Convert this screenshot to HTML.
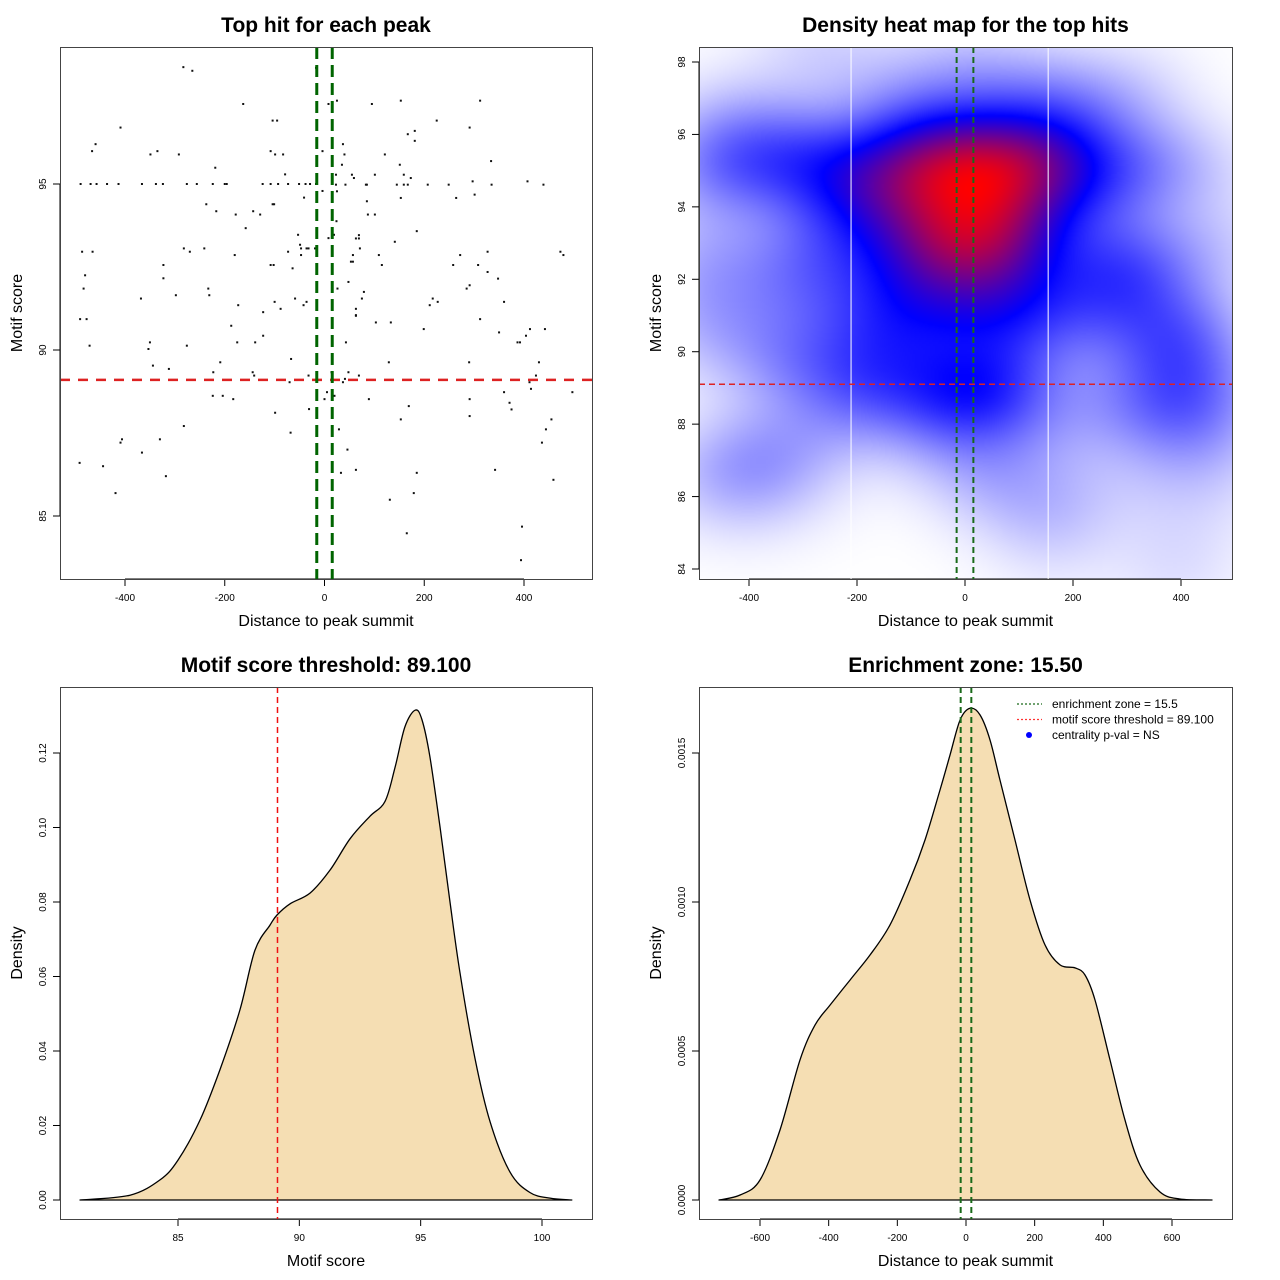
<!DOCTYPE html>
<html><head><meta charset="utf-8"><style>
html,body{margin:0;padding:0;background:#fff;}
#wrap{position:relative;width:1280px;height:1280px;overflow:hidden;font-family:"Liberation Sans",sans-serif;}
#heat{position:absolute;left:699px;top:47px;width:533px;height:532px;}
#svg{position:absolute;left:0;top:0;}
</style></head><body>
<div id="wrap">
<canvas id="heat" width="267" height="266"></canvas>
<svg id="svg" width="1280" height="1280" xmlns="http://www.w3.org/2000/svg"></svg>
</div>
<script>
// ---- data ----
const hitDist = [-283,-265,-163,-104,-95,-409,-459,-466,-349,-335,-292,-219,-108,-99,-83,-79,
-489,-469,-457,-436,-413,-366,-338,-324,-276,-256,-224,-200,-196,-124,-108,-93,-73,-51,-38,-29,-17,
-4,-41,-237,-104,-101,-217,-178,-143,-129,-158,-53,-49,-47,-36,-32,-19,8,-282,-270,-241,-486,-465,-180,-73,-47,
-323,-108,-102,-64,-480,-323,-483,-233,-298,-231,-368,-59,-100,-36,-173,-42,-88,-123,-17,-4,8,
25,95,153,312,225,291,181,167,181,37,40,121,35,151,334,23,55,59,101,159,173,
23,42,83,85,145,159,167,207,249,335,439,297,407,25,153,264,301,85,87,101,15,24,185,19,63,69,69,141,71,57,109,272,327,473,479,53,57,115,258,308,327,348,48,26,291,285,79,75,217,227,211,360,63,63,
-490,-477,-187,-123,-471,-350,-353,-276,-175,-139,-344,-312,-209,-223,-144,-141,-67,-32,-70,5,0,-224,-204,-183,-31,-99,-282,-68,-406,-409,-330,-366,-491,-444,-318,-419,
63,103,133,199,312,350,387,392,404,412,442,43,129,290,430,48,69,14,41,37,424,411,414,20,89,169,291,360,371,375,497,291,153,455,29,444,436,46,33,63,185,342,459,179,131,165,396,394];
const hitScore = [98.52,98.41,97.41,96.91,96.91,96.70,96.20,95.99,95.89,95.99,95.89,95.49,95.99,95.89,95.89,95.29,
95,95,95,95,95,95,95,95,95,95,95,95,95,95,95,95,95,95,95,95,95,
94.79,94.59,94.39,94.39,94.39,94.18,94.08,94.18,94.08,93.67,93.47,93.17,93.06,93.06,93.06,93.06,93.37,93.06,92.96,93.06,92.96,92.96,92.86,92.96,92.86,
92.56,92.56,92.56,92.46,92.25,92.16,91.85,91.85,91.65,91.65,91.55,91.55,91.45,91.45,91.35,91.35,91.24,91.14,98.50,95.99,97.41,
97.51,97.41,97.51,97.51,96.91,96.70,96.60,96.50,96.30,96.20,95.89,95.89,95.58,95.58,95.69,95.28,95.28,95.18,95.28,95.28,95.18,
94.98,94.98,94.98,94.98,94.98,94.98,94.98,94.98,94.98,94.98,94.98,95.08,95.08,94.78,94.58,94.58,94.68,94.48,94.08,94.08,93.98,93.88,93.58,93.47,93.36,93.36,93.46,93.26,93.06,92.86,92.86,92.86,92.96,92.96,92.86,92.66,92.66,92.56,92.56,92.56,92.35,92.15,92.05,91.85,91.95,91.85,91.75,91.55,91.55,91.45,91.35,91.45,91.24,91.05,
90.93,90.93,90.73,90.43,90.13,90.23,90.03,90.13,90.23,90.23,89.53,89.43,89.63,89.33,89.33,89.23,89.73,89.23,89.03,88.73,88.52,88.62,88.62,88.52,88.22,88.11,87.71,87.51,87.31,87.21,87.31,86.91,86.60,86.50,86.20,85.69,
91.03,90.83,90.83,90.63,90.93,90.53,90.23,90.23,90.43,90.63,90.63,90.23,89.63,89.63,89.63,89.33,89.23,89.33,89.13,89.03,89.23,89.03,88.83,88.62,88.52,88.31,88.52,88.73,88.41,88.21,88.73,88.01,87.91,87.91,87.61,87.61,87.21,87.00,86.30,86.39,86.30,86.39,86.09,85.69,85.49,84.48,84.68,83.67];
const scoreX = [80.96,83.02,84.26,85,85.91,86.73,87.55,88.17,88.79,89.08,89.61,90.44,91.26,92.09,92.91,93.53,93.94,94.35,94.77,95.05,95.38,95.8,96.21,96.62,97.24,97.86,98.68,99.5,100.33,101.23];
const scoreDens = [0,0.0013,0.0054,0.0107,0.0215,0.035,0.051,0.067,0.0738,0.0765,0.0795,0.0824,0.0885,0.097,0.103,0.107,0.116,0.127,0.1315,0.129,0.119,0.100,0.080,0.061,0.038,0.021,0.0075,0.002,0.0005,0];
const distX = [-719.5,-658,-600,-541.8,-483.5,-439.8,-396,-338,-279.6,-221.4,-163,-119.4,-75.7,-46.6,-17.5,11.7,40.8,69.9,99,142.7,186.4,230,273.8,317.5,346.6,375.8,419.5,463,506.8,565,623,716.6];
const distDens = [0,0.0000168,0.000067,0.000235,0.00047,0.000587,0.000654,0.000738,0.000822,0.000923,0.001074,0.001208,0.001376,0.001493,0.00161,0.00165,0.001628,0.001544,0.001409,0.001208,0.001007,0.000856,0.000789,0.000779,0.000755,0.000671,0.00047,0.000268,0.000117,0.000027,0.0000034,0];
const threshold = 89.1;
const zone = 15.5;
const p1XTicks=[-400,-200,0,200,400], p1YTicks=[85,90,95];
const p2XTicks=[-400,-200,0,200,400], p2YTicks=[84,86,88,90,92,94,96,98];
const p3XTicks=[85,90,95,100], p3YTicks=[0,0.02,0.04,0.06,0.08,0.10,0.12];
const p3YLabels=["0.00","0.02","0.04","0.06","0.08","0.10","0.12"];
const p4XTicks=[-600,-400,-200,0,200,400,600], p4YTicks=[0,0.0005,0.0010,0.0015];
const p4YLabels=["0.0000","0.0005","0.0010","0.0015"];

// ---- helpers ----
const NS="http://www.w3.org/2000/svg";
const svg=document.getElementById('svg');
function el(tag,attrs,parent,txt){const e=document.createElementNS(NS,tag);for(const k in attrs)e.setAttribute(k,attrs[k]);if(txt!==undefined)e.textContent=txt;(parent||svg).appendChild(e);return e;}
function lin(d0,d1,r0,r1){return v=>r0+(v-d0)*(r1-r0)/(d1-d0);}
function smoothPath(P){ // Catmull-Rom -> cubic bezier
  let d='M'+P[0][0].toFixed(1)+','+P[0][1].toFixed(1);
  for(let i=0;i<P.length-1;i++){const p0=P[Math.max(0,i-1)],p1=P[i],p2=P[i+1],p3=P[Math.min(P.length-1,i+2)];
    const c1=[p1[0]+(p2[0]-p0[0])/6,p1[1]+(p2[1]-p0[1])/6],c2=[p2[0]-(p3[0]-p1[0])/6,p2[1]-(p3[1]-p1[1])/6];
    d+='C'+c1[0].toFixed(1)+','+c1[1].toFixed(1)+' '+c2[0].toFixed(1)+','+c2[1].toFixed(1)+' '+p2[0].toFixed(1)+','+p2[1].toFixed(1);}
  return d+'Z';
}

function panel(name,box,sx,sy,xt,xl,yt,yl,title,xlab,ylab){
  const g=el('g',{});
  
  
  const [x0,y0,x1,y1]=box;
  const t=el('text',{x:(x0+x1)/2,y:y0-15,'text-anchor':'middle','font-size':21,'font-weight':'bold',fill:'#000'},g,title);
  
  
  const xa=el('g',{},g);
  
  
  el('line',{x1:sx(xt[0]),x2:sx(xt[xt.length-1]),y1:y1,y2:y1,stroke:'#000','stroke-width':1},xa);
  xt.forEach((v,i)=>{el('line',{x1:sx(v),x2:sx(v),y1:y1,y2:y1+7,stroke:'#000'},xa);
    const l=el('text',{x:sx(v),y:y1+22,'text-anchor':'middle','font-size':10,fill:'#000'},xa,xl[i]);
    
    });
  const ya=el('g',{},g);
  
  
  el('line',{x1:x0,x2:x0,y1:sy(yt[0]),y2:sy(yt[yt.length-1]),stroke:'#000'},ya);
  yt.forEach((v,i)=>{el('line',{x1:x0-7,x2:x0,y1:sy(v),y2:sy(v),stroke:'#000'},ya);
    const l=el('text',{x:0,y:0,transform:`translate(${x0-14},${sy(v)}) rotate(-90)`,'text-anchor':'middle','font-size':10,fill:'#000'},ya,yl[i]);
    
    });
  const xt2=el('text',{x:(x0+x1)/2,y:y1+47,'text-anchor':'middle','font-size':16,fill:'#000'},g,xlab);
  
  
  const yt2=el('text',{x:0,y:0,transform:`translate(${x0-38},${(y0+y1)/2}) rotate(-90)`,'text-anchor':'middle','font-size':16,fill:'#000'},g,ylab);
  
  
  return g;
}
function frame(box){const f=el('rect',{x:box[0]+0.5,y:box[1]+0.5,width:box[2]-box[0],height:box[3]-box[1],fill:'none',stroke:'#444','stroke-width':1});
  
  }

// ---- panel 1 ----
const b1=[60,47,592,579];
const x1s=lin(-400,400,125,524), y1s=lin(85,95,516,184);
panel('scatter-panel',b1,x1s,y1s,p1XTicks,p1XTicks.map(String),p1YTicks,p1YTicks.map(String),'Top hit for each peak','Distance to peak summit','Motif score');
const pts=el('g',{});


hitDist.forEach((d,i)=>{const c=el('rect',{x:x1s(d)-1,y:y1s(hitScore[i])-1,width:2,height:2,fill:'#111'},pts);
  
  });
const r1=el('line',{x1:b1[0],x2:b1[2],y1:y1s(threshold),y2:y1s(threshold),stroke:'#dd2222','stroke-width':2.5,'stroke-dasharray':'10,8'});


[-zone,zone].forEach(z=>{const g=el('line',{x1:x1s(z),x2:x1s(z),y1:b1[1],y2:b1[3],stroke:'#006400','stroke-width':3,'stroke-dasharray':'12,6'});
  
  });
frame(b1);

// ---- panel 2 heatmap ----
const b2=[699,47,1232,579];
const x2s=lin(-400,400,749,1181), y2s=lin(84,98,569,62);
(function(){
  const cv=document.getElementById('heat'),ctx=cv.getContext('2d');
  const W=cv.width,H=cv.height;
  const img=ctx.createImageData(W,H);
  const bx=89,by=1.0;const dens=new Float32Array(W*H);let mx=0;
  const xinv=px=>-400+(px-749)*800/432, yinv=py=>84+(569-py)*14/507;
  for(let j=0;j<H;j++){const yy=yinv(47+(j+0.5)*532/H);
    for(let i=0;i<W;i++){const xx=xinv(699+(i+0.5)*533/W);let s=0;
      for(let k=0;k<hitDist.length;k++){const dx=(xx-hitDist[k])/bx,dy=(yy-hitScore[k])/by;const q=dx*dx+dy*dy;if(q<30)s+=Math.exp(-0.5*q);}
      dens[j*W+i]=s;if(s>mx)mx=s;}}
  for(let p=0;p<W*H;p++){const t=dens[p]/mx;let r,g,b;
    if(t<0.5){r=g=255*(1-2*t);b=255;}else{r=255*(2*t-1);g=0;b=255*(2-2*t);}
    img.data[p*4]=r;img.data[p*4+1]=g;img.data[p*4+2]=b;img.data[p*4+3]=255;}
  ctx.putImageData(img,0,0);
})();
panel('heatmap-panel',b2,x2s,y2s,p2XTicks,p2XTicks.map(String),p2YTicks,p2YTicks.map(String),'Density heat map for the top hits','Distance to peak summit','Motif score');
[-211,154].forEach(v=>{const w=el('line',{x1:x2s(v),x2:x2s(v),y1:b2[1],y2:b2[3],stroke:'#fff','stroke-width':1});
  
  });
const r2=el('line',{x1:b2[0],x2:b2[2],y1:y2s(threshold),y2:y2s(threshold),stroke:'#dd2222','stroke-width':1.5,'stroke-dasharray':'6,4'});


[-zone,zone].forEach(z=>{const g=el('line',{x1:x2s(z),x2:x2s(z),y1:b2[1],y2:b2[3],stroke:'#1a6a1a','stroke-width':2,'stroke-dasharray':'6,4'});
  
  });
frame(b2);

// ---- panel 3 ----
const b3=[60,687,592,1219];
const x3s=lin(85,100,178,542), y3s=lin(0,0.12,1200,753);
panel('score-density-panel',b3,x3s,y3s,p3XTicks,p3XTicks.map(String),p3YTicks,p3YLabels,'Motif score threshold: 89.100','Motif score','Density');
const a3=el('path',{d:smoothPath(scoreX.map((v,i)=>[x3s(v),y3s(scoreDens[i])])),fill:'#F5DEB3',stroke:'#000','stroke-width':1.3,'stroke-linejoin':'round'});


const r3=el('line',{x1:x3s(threshold),x2:x3s(threshold),y1:b3[1],y2:b3[3],stroke:'#ee1111','stroke-width':1.5,'stroke-dasharray':'6,4'});


frame(b3);

// ---- panel 4 ----
const b4=[699,687,1232,1219];
const x4s=lin(-600,600,760,1172), y4s=lin(0,0.0015,1200,753);
panel('distance-density-panel',b4,x4s,y4s,p4XTicks,p4XTicks.map(String),p4YTicks,p4YLabels,'Enrichment zone: 15.50','Distance to peak summit','Density');
const a4=el('path',{d:smoothPath(distX.map((v,i)=>[x4s(v),y4s(distDens[i])])),fill:'#F5DEB3',stroke:'#000','stroke-width':1.3,'stroke-linejoin':'round'});


[-zone,zone].forEach(z=>{const g=el('line',{x1:x4s(z),x2:x4s(z),y1:b4[1],y2:b4[3],stroke:'#1a6a1a','stroke-width':2,'stroke-dasharray':'6,4'});
  
  });
frame(b4);
const lg=el('g',{});


const le=[['enrichment zone = 15.5','#1a6a1a','line'],['motif score threshold = 89.100','#ff3333','line'],['centrality p-val = NS','#0000ff','dot']];
le.forEach((e,i)=>{const y=704+i*15.5;
  const it=el('g',{},lg);
  
  
  if(e[2]==='line')el('line',{x1:1017,x2:1042,y1:y,y2:y,stroke:e[1],'stroke-width':1.2,'stroke-dasharray':'2,2'},it);
  else el('circle',{cx:1029,cy:y,r:3,fill:e[1]},it);
  el('text',{x:1052,y:y+4,'font-size':12,fill:'#000'},it,e[0]);});
</script>
</body></html>
